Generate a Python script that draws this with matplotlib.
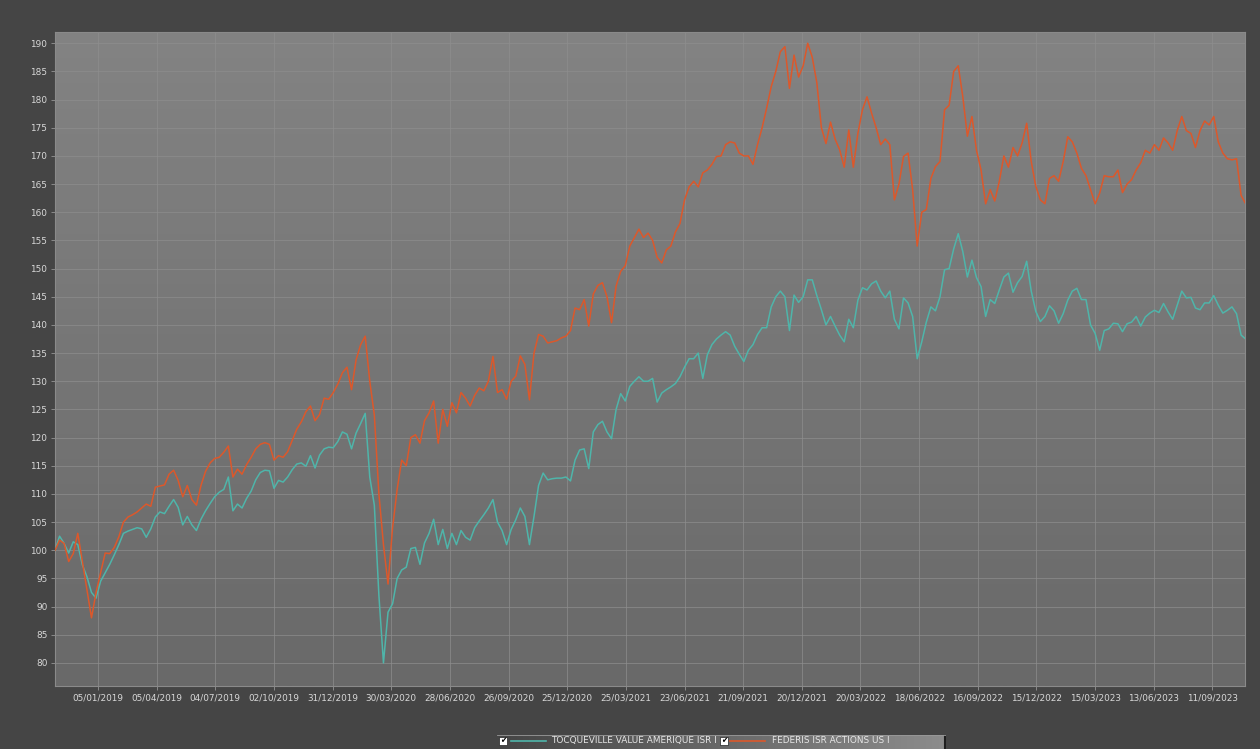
import numpy as np
import pandas as pd
import matplotlib
matplotlib.use("Agg")
import matplotlib.pyplot as plt
import matplotlib.dates as mdates
from matplotlib.colors import LinearSegmentedColormap
from matplotlib.patches import Rectangle

# weekly values, first point 31/10/2018 (base 100)
start_date = "2018-10-31"
series_names = ["TOCQUEVILLE VALUE AMERIQUE ISR I", "FEDERIS ISR ACTIONS US I"]

tocqueville = [
    100, 102.5, 101.2, 99.5, 101.5, 101, 97.4, 95.3, 92.5, 91.5,
    94.5, 96, 97.5, 99.2, 101, 103, 103.4, 103.7, 104, 103.8,
    102.3, 103.8, 105.9, 106.8, 106.5, 107.8, 109, 107.6, 104.5, 106,
    104.5, 103.5, 105.5, 107, 108.3, 109.5, 110.3, 110.8, 113, 107,
    108.2, 107.5, 109.2, 110.5, 112.5, 113.8, 114.2, 114.1, 111, 112.4,
    112.1, 113, 114.3, 115.3, 115.5, 114.9, 116.8, 114.6, 116.9, 118,
    118.3, 118.2, 119.3, 121, 120.6, 118, 120.8, 122.5, 124.3, 113,
    108, 92, 80, 89, 90.5, 95, 96.5, 97, 100.3, 100.5,
    97.5, 101.3, 103, 105.5, 101, 103.7, 100.3, 103, 101, 103.5,
    102.3, 101.8, 104, 105.2, 106.3, 107.5, 109, 105, 103.5, 101,
    103.7, 105.4, 107.5, 106, 101, 106, 111.5, 113.7, 112.5, 112.7,
    112.8, 112.8, 113, 112.3, 116, 117.8, 118, 114.5, 121, 122.3,
    122.9, 121, 119.8, 125, 127.8, 126.5, 129.1, 130, 130.8, 130,
    130, 130.5, 126.3, 127.9, 128.5, 129, 129.6, 130.8, 132.5, 134,
    134, 135, 130.5, 134.7, 136.5, 137.5, 138.2, 138.8, 138.2, 136.2,
    134.8, 133.5, 135.5, 136.5, 138.3, 139.5, 139.5, 143.2, 145, 146,
    145, 139, 145.3, 144, 145, 148, 148, 145.2, 142.7, 140,
    141.5, 139.8, 138.2, 137, 141, 139.5, 144.4, 146.6, 146.2, 147.3,
    147.8, 146, 144.8, 146, 141, 139.3, 144.8, 143.9, 141.5, 134,
    137, 140.5, 143.2, 142.5, 145, 149.8, 150, 153.5, 156.2, 153,
    148.5, 151.5, 148.4, 146.8, 141.5, 144.5, 143.8, 146.2, 148.5, 149.2,
    145.8, 147.5, 148.6, 151.3, 146, 142.4, 140.6, 141.5, 143.4, 142.5,
    140.3, 142, 144.4, 146, 146.5, 144.5, 144.5, 140, 138.5, 135.5,
    139, 139.3, 140.3, 140.2, 138.8, 140.2, 140.5, 141.5, 139.8, 141.4,
    142.1, 142.6, 142.2, 143.8, 142.3, 141, 143.5, 146, 144.8, 144.9,
    143, 142.7, 143.9, 143.9, 145.2, 143.5, 142.1, 142.6, 143.2, 142,
    138.2, 137.5,
]

federis = [
    100, 101.8, 101.2, 98, 99.4, 103, 98, 93, 88, 92.5,
    96, 99.5, 99.4, 100.5, 102.4, 105, 105.9, 106.3, 106.8, 107.5,
    108.2, 107.8, 111.2, 111.4, 111.6, 113.5, 114.2, 112.4, 109.5, 111.5,
    109, 108, 111.5, 114, 115.5, 116.3, 116.5, 117.4, 118.5, 113,
    114.4, 113.5, 115.2, 116.5, 118, 118.8, 119.1, 118.8, 116, 116.8,
    116.5, 117.5, 119.5, 121.5, 122.8, 124.6, 125.6, 123, 124.1, 127,
    126.8, 128, 129.5, 131.5, 132.5, 128.5, 133.8, 136.5, 138, 130,
    124, 110, 101, 94, 104, 110.8, 116, 115, 120, 120.5,
    119, 123, 124.4, 126.5, 119, 125, 122, 126.2, 124.4, 128,
    127, 125.6, 127.5, 128.8, 128.3, 130, 134.4, 128, 128.5, 126.8,
    130, 130.9, 134.5, 133, 126.7, 135, 138.3, 138, 136.8, 137,
    137.2, 137.7, 138, 139, 143, 142.7, 144.5, 139.8, 145.5, 147,
    147.5, 145, 140.4, 146.9, 149.5, 150.5, 154, 155.5, 157, 155.5,
    156.3, 155, 152, 151, 153.3, 154, 156.5, 158, 162.2, 164.5,
    165.5, 164.5, 167, 167.5, 168.5, 169.9, 170, 172, 172.5, 172.3,
    170.5, 170, 170, 168.5, 172, 175, 178.5, 182.3, 185, 188.5,
    189.4, 182, 187.9, 184, 186, 190, 187.5, 183, 175, 172.2,
    176, 173, 171.1, 168, 174.6, 168, 174, 178.2, 180.5, 177.6,
    175, 172, 173, 172, 162.2, 165, 169.9, 170.5, 164, 154,
    160, 160.5, 166, 168.1, 169, 178.2, 179, 185, 186, 180.5,
    173.5, 177, 171, 167.5, 161.5, 164, 162, 165.5, 170, 168,
    171.5, 170, 172.3, 175.8, 169, 164.6, 162.2, 161.5, 166, 166.5,
    165.5, 169, 173.4, 172.5, 170.5, 167.8, 166.5, 164, 161.5, 163.4,
    166.5, 166.3, 166.3, 167.5, 163.5, 165, 165.8, 167.5, 168.8, 171,
    170.5, 172, 171, 173.2, 172.3, 171, 174.5, 177, 174.5, 174,
    171.5, 174.5, 176.2, 175.5, 177, 172.5, 170.5, 169.5, 169.3, 169.5,
    163, 161.5,
]

# x ticks every 90 days from 05/01/2019 to 11/09/2023
tick_start = "2019-01-05"
n_ticks = 20
y_ticks = list(range(80, 191, 5))

colors = ["#4fb5aa", "#dc582b"]
bg_color = "#454545"
label_color = "#d8d8d8"


def _make_gradient(ax, c_from, c_to, horizontal=False):
    cmap = LinearSegmentedColormap.from_list("grad", [c_from, c_to])
    grad = np.linspace(0, 1, 256)
    grad = grad.reshape(1, -1) if horizontal else grad.reshape(-1, 1)
    ax.imshow(grad, cmap=cmap, aspect="auto", extent=[0, 1, 0, 1], origin="upper")
    ax.set_xlim(0, 1)
    ax.set_ylim(0, 1)
    ax.axis("off")


def _build_plot(fig, ax):
    dates = pd.date_range(start_date, periods=len(federis), freq="7D")
    ax.plot(dates, tocqueville, color=colors[0], lw=1.1, zorder=3)
    ax.plot(dates, federis, color=colors[1], lw=1.1, zorder=4)

    ax.set_xlim(pd.Timestamp("2018-10-31"), pd.Timestamp("2023-10-31"))
    ax.set_ylim(75.9, 192.0)

    ticks = pd.date_range(tick_start, periods=n_ticks, freq="90D")
    ax.set_xticks(ticks)
    ax.xaxis.set_major_formatter(mdates.DateFormatter("%d/%m/%Y"))
    ax.set_yticks(y_ticks)

    ax.grid(True, color="#8e8e8e", lw=0.7, alpha=0.7)
    ax.set_axisbelow(True)
    ax.tick_params(colors="#8a8a8a", labelcolor=label_color, labelsize=6.4,
                   length=3, width=0.7, pad=2.5)
    for s in ax.spines.values():
        s.set_color("#8a8a8a")
        s.set_linewidth(0.8)
    ax.patch.set_alpha(0)


def _build_legend(fig):
    W, H = 1260, 749
    x0, x1, y0, y1 = 497, 946, 735, 749
    lax = fig.add_axes([x0 / W, 1 - y1 / H, (x1 - x0) / W, (y1 - y0) / H])
    _make_gradient(lax, "#454545", "#8c8c8c", horizontal=True)
    lax.set_xlim(0, x1 - x0)
    lax.set_ylim(y1 - y0, 0)
    lax.images[0].set_extent([0, x1 - x0, y1 - y0, 0])
    lax.plot([x1 - x0 - 1, x1 - x0 - 1], [0, y1 - y0], color="#1e1e1e", lw=1.5)
    lax.plot([0, x1 - x0], [0.3, 0.3], color="#9a9a9a", lw=0.6)

    items = [(2, 14, 54), (223, 233, 275)]
    for (cb, lx, tx), name, col in zip(items, series_names, colors):
        lax.add_patch(Rectangle((cb, 2), 8, 7.5, facecolor="white", edgecolor="#222222", lw=0.5))
        lax.text(cb + 4, 6, "\u2714", color="black", fontsize=5.5, ha="center", va="center")
        lax.plot([lx, lx + 35], [5.5, 5.5], color=col, lw=1.2)
        lax.text(tx, 5.8, name, color="#e6e6e6", fontsize=6.4, ha="left", va="center")


def plot():
    fig = plt.figure(figsize=(12.6, 7.49), dpi=100, facecolor=bg_color)
    pos = [55 / 1260, 1 - 686 / 749, 1190 / 1260, 654 / 749]
    bg = fig.add_axes(pos, zorder=0)
    _make_gradient(bg, "#838383", "#696969")
    ax = fig.add_axes(pos, zorder=1)
    _build_plot(fig, ax)
    _build_legend(fig)
    fig.savefig("out.png", dpi=100, facecolor=bg_color)


plot()
